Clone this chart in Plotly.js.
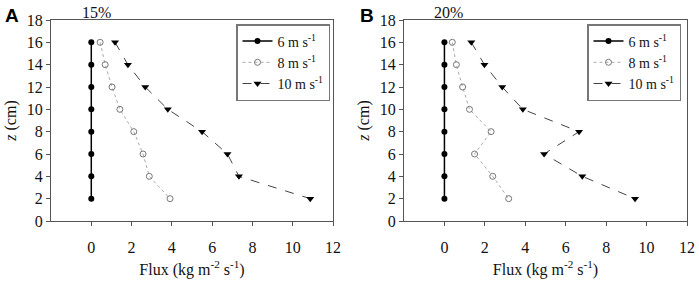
<!DOCTYPE html>
<html>
<head>
<meta charset="utf-8">
<script src="https://cdn.plot.ly/plotly-3.0.1.min.js"></script>
<style>html,body{margin:0;padding:0;background:#fff;}#chart{width:699px;height:284px;}</style>
</head>
<body>
<div id="chart"></div>
<script>
// Heights (cm)
const z = [16, 14, 12, 10, 8, 6, 4, 2];
// Panel A (15%)
const fluxA6  = [0, 0, 0, 0, 0, 0, 0, 0];
const fluxA8  = [0.44, 0.69, 1.03, 1.42, 2.11, 2.57, 2.88, 3.91];
const fluxA10 = [1.18, 1.82, 2.68, 3.80, 5.50, 6.76, 7.33, 10.87];
// Panel B (20%)
const fluxB6  = [0, 0, 0, 0, 0, 0, 0, 0];
const fluxB8  = [0.39, 0.59, 0.90, 1.24, 2.31, 1.49, 2.39, 3.18];
const fluxB10 = [1.33, 1.98, 2.86, 3.88, 6.66, 4.93, 6.82, 9.43];
const seriesNames = ['6 m s<sup>-1</sup>', '8 m s<sup>-1</sup>', '10 m s<sup>-1</sup>'];
const panelLabels = ['A', 'B'];
const panelTitles = ['15%', '20%'];
const xTicks = [0, 2, 4, 6, 8, 10, 12];
const yTicks = [0, 2, 4, 6, 8, 10, 12, 14, 16, 18];

const serif = '"Liberation Serif"';
const sans = '"Liberation Sans"';

const styles = [
  {mode: 'lines+markers', line: {color: '#000', width: 1.5}, marker: {symbol: 'circle', size: 6, color: '#000'}},
  {mode: 'lines+markers', line: {color: '#aaa', width: 1, dash: 'dot'}, marker: {symbol: 'circle-open', size: 6, color: '#777', line: {width: 1}}},
  {mode: 'lines+markers', line: {color: '#444', width: 1, dash: 'dash'}, marker: {symbol: 'triangle-down', size: 7, color: '#000'}}
];

function mk(x, i, ax, leg) {
  return Object.assign({
    x: x, y: z, name: seriesNames[i], type: 'scatter',
    xaxis: ax[0], yaxis: ax[1], legend: leg
  }, JSON.parse(JSON.stringify(styles[i])));
}

const data = [
  mk(fluxA6, 0, ['x', 'y'], 'legend'),
  mk(fluxA8, 1, ['x', 'y'], 'legend'),
  mk(fluxA10, 2, ['x', 'y'], 'legend'),
  mk(fluxB6, 0, ['x2', 'y2'], 'legend2'),
  mk(fluxB8, 1, ['x2', 'y2'], 'legend2'),
  mk(fluxB10, 2, ['x2', 'y2'], 'legend2')
];

const W = 699, H = 284;
const yDom = [1 - 221 / H, 1 - 20 / H];
const tf = {family: serif, size: 16, color: '#111'};

function xa(dom) {
  return {
    domain: dom, range: [-2, 12], tickvals: xTicks, ticktext: xTicks.map(String),
    showline: true, mirror: true, linecolor: '#555', linewidth: 1,
    ticks: 'outside', ticklen: 4, tickcolor: '#555', showgrid: false, zeroline: false,
    ticklabelstandoff: 8,
    tickfont: tf,
    title: {text: 'Flux (kg m<sup>-2</sup> s<sup>-1</sup>)', font: tf, standoff: 8}
  };
}
function ya(anchor) {
  return {
    domain: yDom, range: [0, 18], tickvals: yTicks, ticktext: yTicks.map(String), anchor: anchor,
    showline: true, mirror: true, linecolor: '#555', linewidth: 1,
    ticks: 'outside', ticklen: 4, tickcolor: '#555', showgrid: false, zeroline: false,
    tickfont: tf,
    title: {text: '<i>z</i> (cm)', font: tf, standoff: 6}
  };
}

const legFont = {family: serif, size: 14, color: '#111'};

const layout = {
  width: W, height: H, margin: {l: 0, r: 0, t: 0, b: 0},
  paper_bgcolor: '#fff', plot_bgcolor: '#fff',
  font: {family: serif, size: 15, color: '#111'},
  xaxis: Object.assign(xa([51 / W, 333 / W]), {anchor: 'y'}),
  yaxis: ya('x'),
  xaxis2: Object.assign(xa([404 / W, 687 / W]), {anchor: 'y2'}),
  yaxis2: ya('x2'),
  legend: {x: 330 / W, y: 1 - 24 / H, xanchor: 'right', yanchor: 'top', bordercolor: '#777', borderwidth: 1.5,
           bgcolor: '#fff', font: legFont, tracegroupgap: 0},
  legend2: {x: 681 / W, y: 1 - 24 / H, xanchor: 'right', yanchor: 'top', bordercolor: '#777', borderwidth: 1.5,
            bgcolor: '#fff', font: legFont, tracegroupgap: 0},
  annotations: [
    {text: '<b>' + panelLabels[0] + '</b>', x: 3 / W, y: 1 - 3 / H, xref: 'paper', yref: 'paper', xanchor: 'left', yanchor: 'top', showarrow: false,
     font: {family: sans, size: 19, color: '#000'}},
    {text: panelTitles[0], x: 96 / W, y: 1 - 2 / H, xref: 'paper', yref: 'paper', xanchor: 'center', yanchor: 'top', showarrow: false,
     font: {family: serif, size: 16, color: '#111'}},
    {text: '<b>' + panelLabels[1] + '</b>', x: 358 / W, y: 1 - 3 / H, xref: 'paper', yref: 'paper', xanchor: 'left', yanchor: 'top', showarrow: false,
     font: {family: sans, size: 19, color: '#000'}},
    {text: panelTitles[1], x: 448 / W, y: 1 - 2 / H, xref: 'paper', yref: 'paper', xanchor: 'center', yanchor: 'top', showarrow: false,
     font: {family: serif, size: 16, color: '#111'}}
  ]
};

Plotly.newPlot('chart', data, layout, {displayModeBar: false, staticPlot: true});
</script>
</body>
</html>
